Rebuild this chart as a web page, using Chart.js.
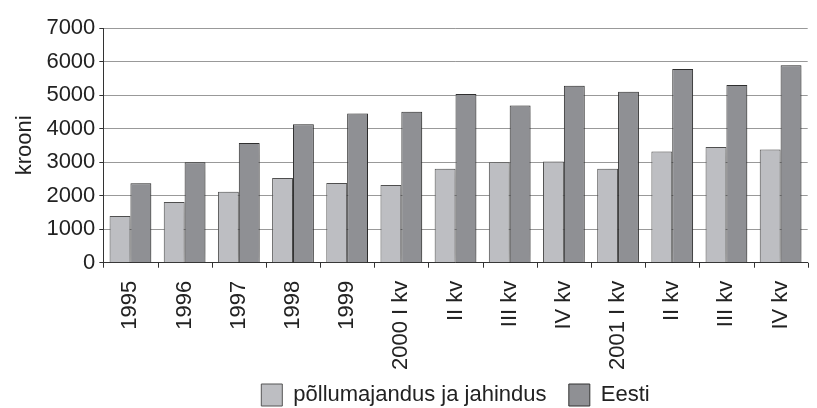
<!DOCTYPE html>
<html>
<head>
<meta charset="utf-8">
<script src="https://cdn.jsdelivr.net/npm/chart.js@4/dist/chart.umd.min.js"></script>
<style>
  html, body { margin: 0; padding: 0; background: #fff; }
  #wrap { width: 817px; height: 408px; }
</style>
</head>
<body>
<div id="wrap"><canvas id="graph-area"></canvas></div>
<script>
// kategooriad (aastad ja kvartalid)
var labels = ["1995", "1996", "1997", "1998", "1999", "2000 I kv", "II kv", "III kv", "IV kv",
              "2001 I kv", "II kv", "III kv", "IV kv"];
// põllumajandus ja jahindus
var pollumajandus = [1390, 1810, 2120, 2530, 2380, 2320, 2800, 3000, 3020, 2800, 3320, 3450, 3380];
// Eesti keskmine
var eesti = [2370, 3000, 3570, 4130, 4450, 4500, 5030, 4690, 5280, 5100, 5780, 5300, 5890];
var yTicks = [0, 1000, 2000, 3000, 4000, 5000, 6000, 7000];

var font = { family: "'Liberation Sans', Arial, sans-serif", size: 22 };

// väikesed kriipsud x-telje all kategooriate piiridel
var xTickMarks = {
  id: 'xTickMarks',
  afterDatasetsDraw: function (chart) {
    var sc = chart.scales.x;
    var ctx = chart.ctx;
    var step = sc.width / labels.length;
    ctx.save();
    ctx.strokeStyle = '#333';
    ctx.lineWidth = 1;
    ctx.beginPath();
    for (var i = 0; i <= labels.length; i++) {
      var x = Math.round(sc.getPixelForValue(i) - step / 2) + 0.5;
      ctx.moveTo(x, sc.top);
      ctx.lineTo(x, sc.top + 5);
    }
    ctx.stroke();
    ctx.restore();
  }
};

// pehme vari tulpade taga
var barShadow = {
  id: 'barShadow',
  beforeDatasetsDraw: function (chart) {
    var ctx = chart.ctx;
    ctx.save();
    ctx.shadowColor = 'rgba(0,0,0,0.22)';
    ctx.shadowBlur = 14;
    ctx.shadowOffsetX = 5;
    ctx.shadowOffsetY = 0;
  },
  afterDatasetsDraw: function (chart) {
    chart.ctx.restore();
  }
};

var canvas = document.getElementById('graph-area');
var chart = new Chart(canvas, {
  type: 'bar',
  data: {
    labels: labels,
    datasets: [
      {
        label: 'põllumajandus ja jahindus',
        data: pollumajandus,
        backgroundColor: '#bdbec2',
        borderColor: '#555',
        borderWidth: 1
      },
      {
        label: 'Eesti',
        data: eesti,
        backgroundColor: '#8f9094',
        borderColor: '#333',
        borderWidth: 1
      }
    ]
  },
  options: {
    responsive: true,
    maintainAspectRatio: false,
    animation: false,
    layout: { padding: { top: 28, right: 0, left: 8, bottom: -8 } },
    datasets: { bar: { categoryPercentage: 0.77, barPercentage: 1 } },
    plugins: {
      tooltip: { enabled: false },
      legend: {
        position: 'bottom',
        fullSize: false,
        labels: {
          font: font,
          color: '#222',
          boxWidth: 21,
          boxHeight: 22,
          padding: 4,
          // vahe legendi kirjete vahel (padding kasvataks ka kõrgust)
          generateLabels: function (chart) {
            var items = Chart.defaults.plugins.legend.labels.generateLabels(chart);
            items[0].text = items[0].text + '   ';
            return items;
          }
        }
      }
    },
    scales: {
      x: {
        offset: true,
        grid: { display: false },
        border: { display: true, color: '#333' },
        ticks: { font: font, color: '#222', maxRotation: 90, minRotation: 90, autoSkip: false, padding: 10 }
      },
      y: {
        min: 0,
        max: 7000,
        afterBuildTicks: function (axis) {
          axis.ticks = yTicks.map(function (v) { return { value: v }; });
        },
        grid: { color: '#999', tickLength: 4, tickColor: '#333' },
        border: { color: '#333' },
        ticks: {
          font: font, color: '#222', padding: 4,
          callback: function (v) { return String(v); }
        },
        title: { display: true, text: 'krooni', font: font, color: '#222', padding: 4 }
      }
    }
  },
  plugins: [barShadow, xTickMarks]
});
</script>
</body>
</html>
